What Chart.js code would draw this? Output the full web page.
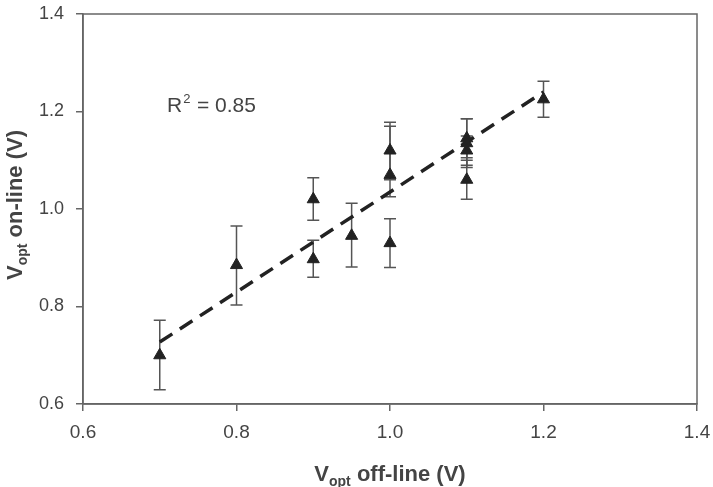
<!DOCTYPE html>
<html>
<head>
<meta charset="utf-8">
<script src="https://cdn.jsdelivr.net/npm/chart.js@4.4.1/dist/chart.umd.min.js"></script>
<style>
  html, body { margin: 0; padding: 0; background: #fff; }
  #wrap { width: 713px; height: 487px; }
</style>
</head>
<body>
<div id="wrap"><canvas id="scatterChart"></canvas></div>
<script>
// measured values (off-line vs on-line optimum voltage)
var offLine = [0.7, 0.8, 0.9, 0.9, 0.95, 1.0, 1.0, 1.0, 1.1, 1.1, 1.1, 1.1, 1.2];
var onLine  = [0.70, 0.885, 1.02, 0.897, 0.945, 1.12, 1.07, 0.93, 1.145, 1.135, 1.12, 1.06, 1.225];
var errUp   = [0.072, 0.08, 0.044, 0.039, 0.067, 0.058, 0.10, 0.05, 0.04, 0.05, 0.03, 0.04, 0.037];
var errDown = [0.071, 0.082, 0.043, 0.037, 0.064, 0.06, 0.045, 0.05, 0.04, 0.05, 0.03, 0.04, 0.037];

// regression line end points
var fitX = [0.7, 1.2];
var fitY = [0.727, 1.24];

var xTicks = [0.6, 0.8, 1.0, 1.2, 1.4];
var yTicks = [0.6, 0.8, 1.0, 1.2, 1.4];

var points = offLine.map(function (x, i) { return { x: x, y: onLine[i] }; });
var fitLine = fitX.map(function (x, i) { return { x: x, y: fitY[i] }; });

var labelFont = '"Liberation Sans", Arial, sans-serif';

var errorBars = {
    id: 'errorBars',
    beforeDatasetsDraw: function (chart) {
        var ctx = chart.ctx, xs = chart.scales.x, ys = chart.scales.y;
        ctx.save();
        ctx.strokeStyle = '#555';
        ctx.lineWidth = 1.5;
        offLine.forEach(function (x, i) {
            var px = xs.getPixelForValue(x);
            var top = ys.getPixelForValue(onLine[i] + errUp[i]);
            var bot = ys.getPixelForValue(onLine[i] - errDown[i]);
            ctx.beginPath();
            ctx.moveTo(px, top); ctx.lineTo(px, bot);
            ctx.moveTo(px - 6, top); ctx.lineTo(px + 6, top);
            ctx.moveTo(px - 6, bot); ctx.lineTo(px + 6, bot);
            ctx.stroke();
        });
        ctx.restore();
    }
};

var frameAndText = {
    id: 'frameAndText',
    afterDraw: function (chart) {
        var ctx = chart.ctx, a = chart.chartArea;
        ctx.save();
        ctx.strokeStyle = '#666';
        ctx.lineWidth = 1.5;
        ctx.strokeRect(a.left, a.top, a.right - a.left, a.bottom - a.top);

        // R squared annotation
        ctx.fillStyle = '#444';
        ctx.textBaseline = 'alphabetic';
        ctx.textAlign = 'left';
        var rx = 167, ry = 112;
        ctx.font = '21px ' + labelFont;
        ctx.fillText('R', rx, ry);
        var w = ctx.measureText('R').width;
        ctx.font = '13px ' + labelFont;
        ctx.fillText('2', rx + w + 1, ry - 9);
        ctx.font = '21px ' + labelFont;
        ctx.fillText(' = 0.85', rx + w + 9, ry);

        // axis titles with subscript
        function title(cx, cy, rot, rest) {
            ctx.save();
            ctx.translate(cx, cy);
            ctx.rotate(rot);
            ctx.fillStyle = '#444';
            ctx.font = 'bold 22px ' + labelFont;
            var w1 = ctx.measureText('V').width;
            ctx.font = 'bold 14px ' + labelFont;
            var w2 = ctx.measureText('opt').width;
            ctx.font = 'bold 22px ' + labelFont;
            var w3 = ctx.measureText(rest).width;
            var x0 = -(w1 + w2 + w3) / 2;
            ctx.fillText('V', x0, 0);
            ctx.font = 'bold 14px ' + labelFont;
            ctx.fillText('opt', x0 + w1, 5);
            ctx.font = 'bold 22px ' + labelFont;
            ctx.fillText(rest, x0 + w1 + w2, 0);
            ctx.restore();
        }
        title((a.left + a.right) / 2, 481, 0, ' off-line (V)');
        title(22, 205, -Math.PI / 2, ' on-line (V)');
        ctx.restore();
    }
};

var ctx = document.getElementById('scatterChart').getContext('2d');
var myChart = new Chart(ctx, {
    type: 'scatter',
    data: {
        datasets: [{
            label: 'fit',
            type: 'line',
            data: fitLine,
            borderColor: '#222',
            borderWidth: 3.5,
            borderDash: [15, 9],
            pointRadius: 0,
            fill: false,
            order: 1
        }, {
            label: 'Vopt',
            data: points,
            pointStyle: 'triangle',
            pointRadius: 7,
            backgroundColor: '#222',
            borderColor: '#222',
            borderWidth: 1,
            order: 0
        }]
    },
    plugins: [errorBars, frameAndText],
    options: {
        responsive: true,
        maintainAspectRatio: false,
        animation: false,
        layout: {
            padding: { top: 14, right: 16, left: 0, bottom: 0 }
        },
        plugins: {
            legend: { display: false },
            tooltip: { enabled: false }
        },
        scales: {
            x: {
                type: 'linear',
                min: 0.6,
                max: 1.4,
                afterBuildTicks: function (s) { s.ticks = xTicks.map(function (v) { return { value: v }; }); },
                afterFit: function (s) { s.height = 83; s.paddingLeft = 0; s.paddingRight = 0; },
                grid: { drawOnChartArea: false, tickLength: 7, color: '#666', lineWidth: 1.5 },
                border: { color: '#666', width: 1.5 },
                ticks: {
                    color: '#444',
                    padding: 10,
                    font: { family: labelFont, size: 19 },
                    callback: function (v) { return v.toFixed(1); }
                }
            },
            y: {
                type: 'linear',
                min: 0.6,
                max: 1.4,
                afterBuildTicks: function (s) { s.ticks = yTicks.map(function (v) { return { value: v }; }); },
                afterFit: function (s) { s.width = 83; s.paddingTop = 0; s.paddingBottom = 0; },
                grid: { drawOnChartArea: false, tickLength: 7, color: '#666', lineWidth: 1.5 },
                border: { color: '#666', width: 1.5 },
                ticks: {
                    color: '#444',
                    padding: 12,
                    font: { family: labelFont, size: 18 },
                    callback: function (v) { return v.toFixed(1); }
                }
            }
        }
    }
});
</script>
</body>
</html>
